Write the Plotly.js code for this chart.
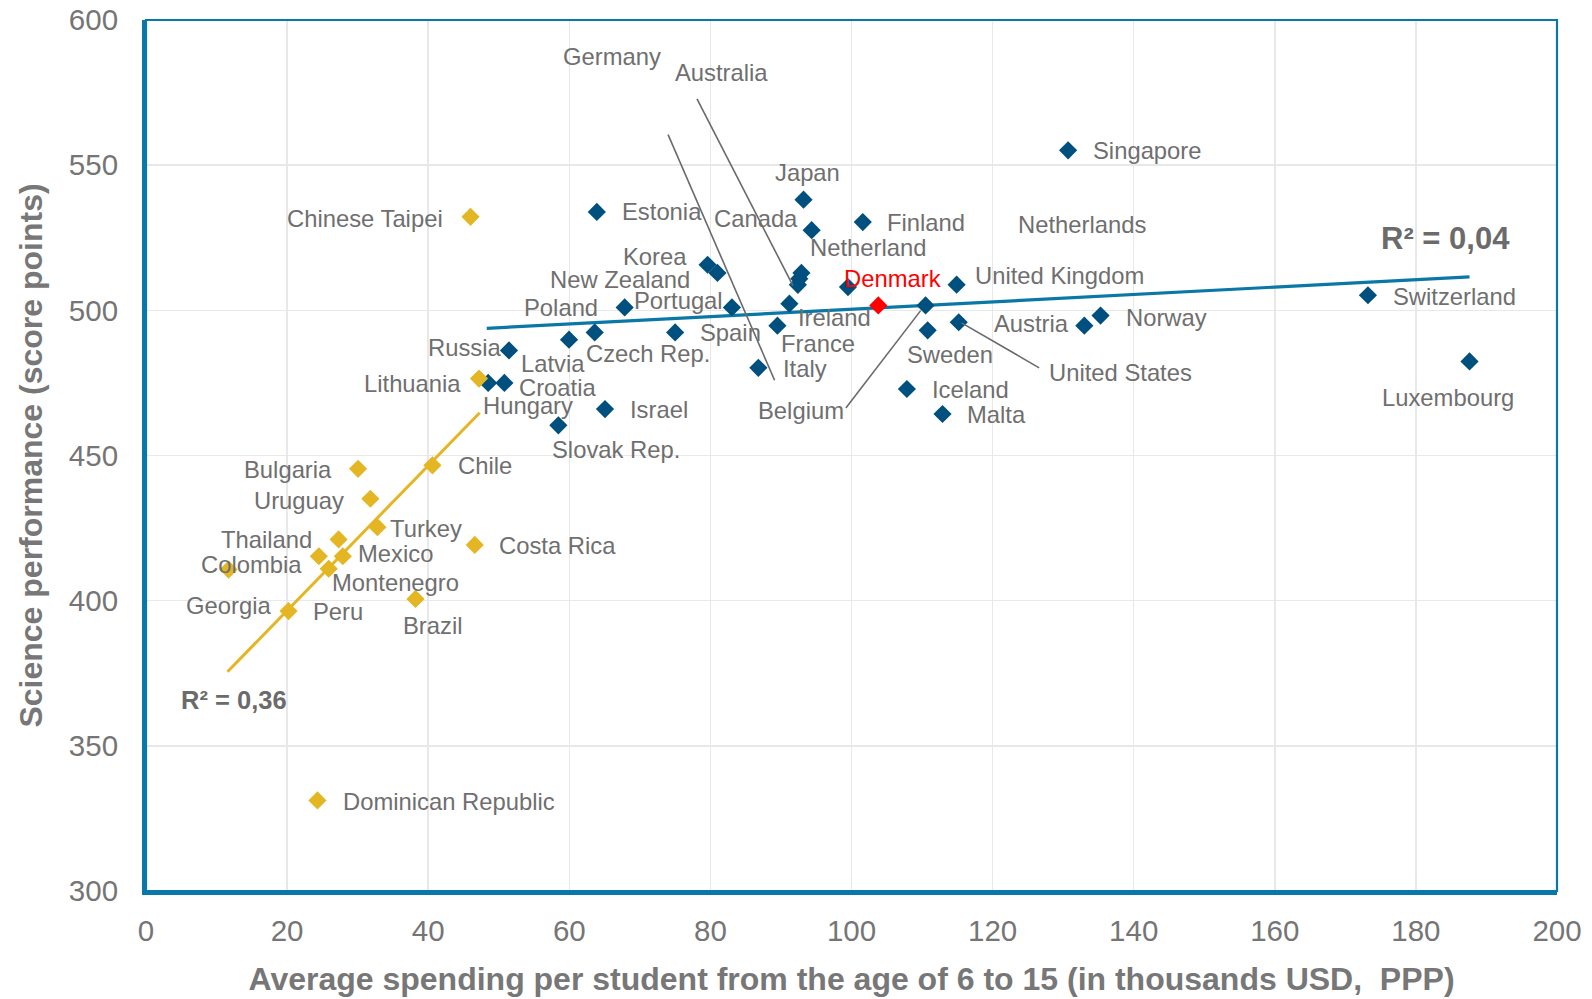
<!DOCTYPE html>
<html>
<head>
<meta charset="utf-8">
<script src="https://cdn.plot.ly/plotly-3.0.1.min.js"></script>
<style>html,body{margin:0;padding:0;background:#fff;}#chart{width:1592px;height:999px;}</style>
</head>
<body>
<div id="chart"></div>
<script>
// ---- Data ----
const oecdNames = ['Singapore','Japan','Estonia','Finland','Canada','Korea','New Zealand','Netherland','Australia','Germany','Netherlands','United Kingdom','Belgium','United States','Sweden','Iceland','Malta','Ireland','France','Italy','Portugal','Spain','Poland','Czech Rep.','Latvia','Russia','Croatia','Hungary','Israel','Slovak Rep.','Austria','Norway','Switzerland','Luxembourg'];
const oecdSpend = [130.7, 93.2, 63.9, 101.6, 94.35, 79.6, 81.0, 92.9, 92.6, 92.4, 99.5, 114.9, 110.5, 115.2, 110.8, 107.85, 112.9, 91.2, 89.5, 86.8, 83.05, 75.0, 67.85, 63.6, 59.96, 51.45, 50.8, 48.5, 65.06, 58.45, 133.0, 135.3, 173.2, 187.6];
const oecdScience = [555.1, 538.1, 533.9, 530.4, 527.6, 515.7, 512.9, 512.9, 510.9, 508.8, 508.0, 508.85, 501.7, 495.9, 493.1, 472.9, 464.3, 502.3, 494.7, 480.2, 501.0, 492.4, 501.0, 492.4, 489.9, 486.2, 475.0, 475.0, 466.0, 460.4, 494.7, 498.2, 505.2, 482.4];

const denmarkName = ['Denmark'];
const denmarkSpend = [103.8];
const denmarkScience = [501.7];

const partnerNames = ['Chinese Taipei','Lithuania','Bulgaria','Chile','Uruguay','Turkey','Costa Rica','Thailand','Colombia','Mexico','Montenegro','Georgia','Brazil','Peru','Dominican Republic'];
const partnerSpend = [46.0, 47.2, 30.06, 40.6, 31.8, 32.8, 46.6, 27.3, 24.5, 27.9, 25.9, 11.7, 38.2, 20.2, 24.3];
const partnerScience = [532.2, 476.5, 445.4, 446.6, 435.1, 425.3, 419.2, 421.1, 415.3, 415.3, 411.0, 410.7, 400.6, 396.4, 331.2];

// trend lines (end points)
const oecdTrendX = [48.3, 187.6];
const oecdTrendY = [493.8, 511.5];
const partnerTrendX = [11.55, 47.3];
const partnerTrendY = [375.5, 464.7];
const r2Labels = ['R² = 0,04', 'R² = 0,36'];

const xTicks = [0,20,40,60,80,100,120,140,160,180,200];
const yTicks = [300,350,400,450,500,550,600];

// ---- Label placement (layout, not data) ----
const labelPos = {
  'Germany':[66.0,587.4], 'Australia':[81.6,581.8], 'Japan':[93.8,547.6], 'Singapore':[141.9,554.9],
  'Chinese Taipei':[31.1,531.8], 'Estonia':[73.1,533.9], 'Canada':[86.5,531.8], 'Finland':[110.6,530.4],
  'Netherlands':[132.7,529.4], 'Netherland':[102.4,521.7], 'Korea':[72.1,518.5], 'New Zealand':[67.2,510.5],
  'Denmark':[105.8,510.8], 'United Kingdom':[129.5,511.9], 'Poland':[58.8,501.0], 'Portugal':[75.5,503.5],
  'Ireland':[97.55,497.6], 'Spain':[82.9,492.3], 'France':[95.25,488.5], 'Russia':[45.2,487.1],
  'Latvia':[57.7,481.8], 'Czech Rep.':[71.1,485.3], 'Lithuania':[37.8,474.8], 'Croatia':[58.3,473.4],
  'Hungary':[54.1,467.1], 'Israel':[72.7,465.7], 'Slovak Rep.':[66.6,452.1], 'Italy':[93.4,480.1],
  'Belgium':[92.9,465.4], 'Sweden':[114.0,484.9], 'Iceland':[116.8,472.7], 'Malta':[120.6,464.0],
  'Austria':[125.5,495.5], 'United States':[138.1,478.7], 'Norway':[144.6,497.6], 'Switzerland':[185.5,504.9],
  'Luxembourg':[184.6,469.9], 'Bulgaria':[20.1,445.1], 'Chile':[48.1,446.5], 'Uruguay':[21.7,434.6],
  'Turkey':[39.7,424.8], 'Costa Rica':[58.3,418.9], 'Thailand':[17.1,421.0], 'Colombia':[15.0,412.6],
  'Mexico':[35.3,416.1], 'Montenegro':[35.4,406.3], 'Georgia':[11.7,398.3], 'Peru':[27.2,396.2],
  'Brazil':[40.7,391.3], 'Dominican Republic':[42.9,330.8]
};
const r2Pos = [[184.2,524.8,31],[12.5,365.7,25.5]];
// leader lines [x0,y0,x1,y1]
const leaders = [
  [74.0,560.5,89.1,475.9],
  [78.1,572.8,91.7,508.5],
  [99.2,466.4,109.8,499.9],
  [115.6,495.7,126.6,480.2]
];

const FONT = 'Arial, "Liberation Sans", sans-serif';
const TEXT_GREY = '#6f6f6f';
const BLUE_MK = '#00507f';
const BLUE_LN = '#0a78a6';
const YELLOW = '#e4b624';

const traces = [
  {x: partnerTrendX, y: partnerTrendY, mode:'lines', line:{color:YELLOW, width:3}, hoverinfo:'skip', showlegend:false},
  {x: oecdTrendX, y: oecdTrendY, mode:'lines', line:{color:BLUE_LN, width:3.2}, hoverinfo:'skip', showlegend:false},
  {x: oecdSpend, y: oecdScience, text: oecdNames, mode:'markers', marker:{symbol:'diamond', size:14, color:BLUE_MK}, showlegend:false},
  {x: partnerSpend, y: partnerScience, text: partnerNames, mode:'markers', marker:{symbol:'diamond', size:14, color:YELLOW}, showlegend:false},
  {x: denmarkSpend, y: denmarkScience, text: denmarkName, mode:'markers', marker:{symbol:'diamond', size:14, color:'#ff0000'}, showlegend:false}
];

const annotations = [];
const allNames = oecdNames.concat(partnerNames, denmarkName);
allNames.forEach(n => {
  const p = labelPos[n];
  if (!p) return;
  annotations.push({x:p[0], y:p[1], xref:'x', yref:'y', text:n, showarrow:false,
    xanchor:'center', yanchor:'middle',
    font:{family:FONT, size:23.8, color: n === 'Denmark' ? '#ff0000' : TEXT_GREY}});
});
r2Labels.forEach((t,i) => {
  annotations.push({x:r2Pos[i][0], y:r2Pos[i][1], xref:'x', yref:'y', text:'<b>'+t+'</b>', showarrow:false,
    xanchor:'center', yanchor:'middle', font:{family:FONT, size:r2Pos[i][2], color:'#6b6b6b'}});
});

const shapes = leaders.map(l => ({type:'line', xref:'x', yref:'y', x0:l[0], y0:l[1], x1:l[2], y1:l[3],
  line:{color:'#6a6a6a', width:1.6}, layer:'above'}));
shapes.push({type:'rect', xref:'paper', yref:'paper', x0:0, y0:0, x1:1, y1:1, line:{color:BLUE_LN, width:2.2}, layer:'above'});

const layout = {
  width:1592, height:999,
  margin:{l:146, r:35, t:20, b:108, pad:0},
  paper_bgcolor:'#ffffff', plot_bgcolor:'#ffffff',
  font:{family:FONT, color:TEXT_GREY},
  showlegend:false,
  xaxis:{range:[0,200], tickvals:xTicks, ticktext:xTicks.map(String), showgrid:true, gridcolor:'#e8e8e8', gridwidth:1.5,
    zeroline:false, showline:true, linecolor:BLUE_LN, linewidth:4, ticks:'', ticklabelstandoff:11,
    tickfont:{family:FONT, size:29.5, color:'#757575'},
    title:{text:'<b>Average spending per student from the age of 6 to 15 (in thousands USD,  PPP)</b>', standoff:22,
      font:{family:FONT, size:32, color:'#777777'}}},
  yaxis:{range:[300,600], tickvals:yTicks, ticktext:yTicks.map(String), showgrid:true, gridcolor:'#e8e8e8', gridwidth:1.5,
    zeroline:false, showline:true, linecolor:BLUE_LN, linewidth:4, ticks:'', ticklabelstandoff:18,
    tickfont:{family:FONT, size:29.5, color:'#757575'},
    title:{text:'<b>Science performance (score points)</b>', standoff:18,
      font:{family:FONT, size:32, color:'#777777'}}},
  annotations: annotations,
  shapes: shapes
};

Plotly.newPlot('chart', traces, layout, {displayModeBar:false, staticPlot:true});
</script>
</body>
</html>
